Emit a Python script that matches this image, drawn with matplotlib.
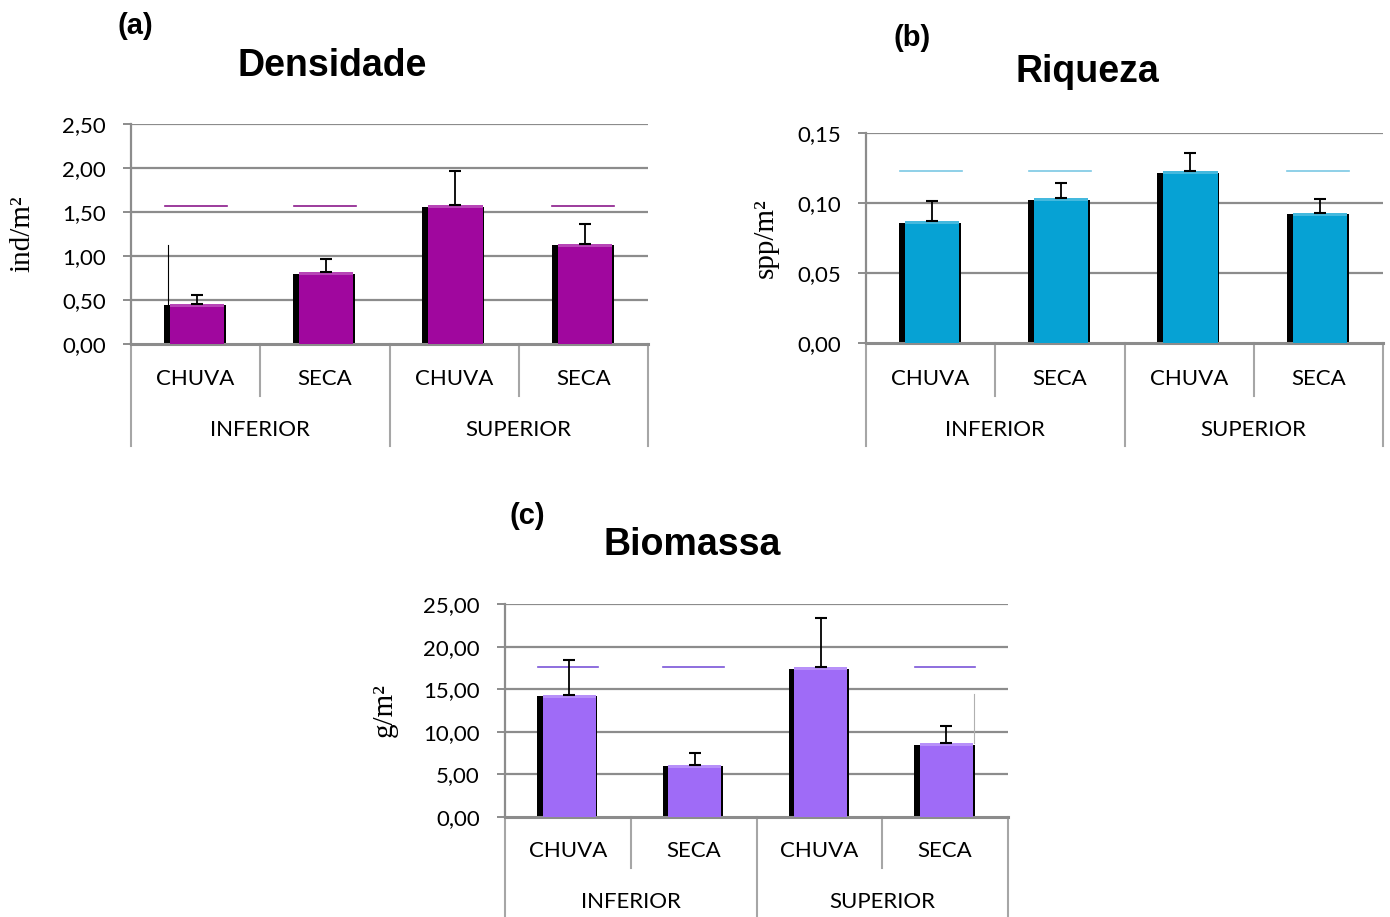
import numpy as np
import matplotlib.pyplot as plt

categories = ['CHUVA', 'SECA', 'CHUVA', 'SECA']
groups = ['INFERIOR', 'SUPERIOR']

# (a) Densidade
dens = [0.46, 0.82, 1.58, 1.14]
dens_err = [0.10, 0.15, 0.39, 0.22]
dens_ref = [1.57, 1.57, None, 1.57]

# (b) Riqueza
rich = [0.087, 0.1035, 0.1225, 0.093]
rich_err = [0.0144, 0.011, 0.013, 0.0098]
rich_ref = [0.123, 0.123, None, 0.123]

# (c) Biomassa
bio = [14.35, 6.15, 17.6, 8.7]
bio_err = [4.05, 1.35, 5.7, 2.0]
bio_ref = [17.65, 17.65, None, 17.65]

W, H = 1390, 917
fig = plt.figure(figsize=(W / 100, H / 100), dpi=100)
fig.patch.set_facecolor('white')

TICKFONT = 'Lato'
GRID = '#8c8c8c'


def px_axes(l, t, r, b):
    return fig.add_axes([l / W, (H - b) / H, (r - l) / W, (b - t) / H])


def panel(ax, vals, errs, ref, color, refcolor, ymax, step, ylabel, ylx, title, tx, ty, letter, lx, ly, below):
    x = np.arange(len(vals))
    h_px = ax.get_position().height * H
    ax.set_xlim(-0.5, 3.5)
    ax.set_ylim(0, ymax)
    ticks = np.arange(0, ymax + step / 2, step)
    ax.set_yticks(ticks)
    ax.set_yticklabels([f'{t:.2f}'.replace('.', ',') for t in ticks], fontsize=16, family=TICKFONT)
    for t in ticks[1:]:
        ax.axhline(t, color=GRID, lw=1.6, zorder=1)
    for s in ['top', 'right']:
        ax.spines[s].set_visible(False)
    ax.spines['left'].set_color(GRID)
    ax.spines['left'].set_linewidth(1.6)
    ax.spines['bottom'].set_color(GRID)
    ax.spines['bottom'].set_linewidth(2.2)
    ax.tick_params(axis='y', length=6, width=1.4, color=GRID, pad=12)
    ax.set_xticks([])

    # black shadow side + coloured front
    ax.bar(x - 0.005, [v - ymax * 0.008 for v in vals], width=0.48, color='black', zorder=2)
    ax.bar(x + 0.01, vals, width=0.42, color=color, zorder=3)
    ax.bar(x + 0.01, [ymax * 0.014] * 4, bottom=[v - ymax * 0.014 for v in vals], width=0.42,
           color='white', alpha=0.25, zorder=4)
    ax.errorbar(x + 0.01, vals, yerr=[[0] * 4, errs], fmt='none', ecolor='black', elinewidth=1.3,
                capsize=4.5, capthick=1.5, zorder=5)
    for xi, r in zip(x, ref):
        if r is not None:
            ax.plot([xi - 0.24, xi + 0.24], [r, r], color=refcolor, lw=1.2, zorder=4)

    # two-level category axis below the plot
    inner, outer, lab1, lab2 = below
    tr = ax.get_xaxis_transform()
    for xd in [0.5, 2.5]:
        ax.plot([xd, xd], [0, -inner / h_px], color='#a6a6a6', lw=1.5, transform=tr, clip_on=False)
    for xd in [-0.5, 1.5, 3.5]:
        ax.plot([xd, xd], [0, -outer / h_px], color='#a6a6a6', lw=1.5, transform=tr, clip_on=False)
    for xi, c in zip(x, categories):
        ax.text(xi, -lab1 / h_px, c, transform=tr, ha='center', va='center', fontsize=16, family=TICKFONT)
    for gi, g in enumerate(groups):
        ax.text(0.5 + 2 * gi, -lab2 / h_px, g, transform=tr, ha='center', va='center', fontsize=16, family=TICKFONT)

    yc = (ax.get_position().y0 + ax.get_position().y1) / 2
    fig.text(ylx / W, yc, ylabel, rotation=90, ha='center', va='center', fontsize=21, family='Liberation Serif')
    fig.text(tx / W, 1 - ty / H, title, ha='center', va='center', fontsize=27, weight='bold', family='Liberation Sans')
    fig.text(lx / W, 1 - ly / H, letter, ha='center', va='center', fontsize=21, weight='bold', family='Liberation Sans')


axa = px_axes(131, 124, 648, 344)
panel(axa, dens, dens_err, dens_ref, '#a0079e', '#8b1a8b', 2.5, 0.5, 'ind/m²', 22,
      'Densidade', 332, 66, '(a)', 135, 26, (52, 102, 35, 86))
# stray line left of first bar
axa.plot([-0.21, -0.21], [dens[0], 1.12], color='black', lw=0.8, zorder=5)

axb = px_axes(866, 133, 1383, 343)
panel(axb, rich, rich_err, rich_ref, '#06a2d4', '#7cc8e4', 0.15, 0.05, 'spp/m²', 766,
      'Riqueza', 1087, 72, '(b)', 912, 38, (53, 103, 36, 87))

axc = px_axes(505, 604, 1008, 817)
panel(axc, bio, bio_err, bio_ref, '#9f6bf7', '#7a55d8', 25, 5, 'g/m²', 385,
      'Biomassa', 692, 545, '(c)', 527, 516, (51, 105, 34, 85))
axc.plot([3.23, 3.23], [bio[3], 14.4], color='#b0b0b0', lw=0.8, zorder=5)

fig.savefig('out.png', dpi=100)
